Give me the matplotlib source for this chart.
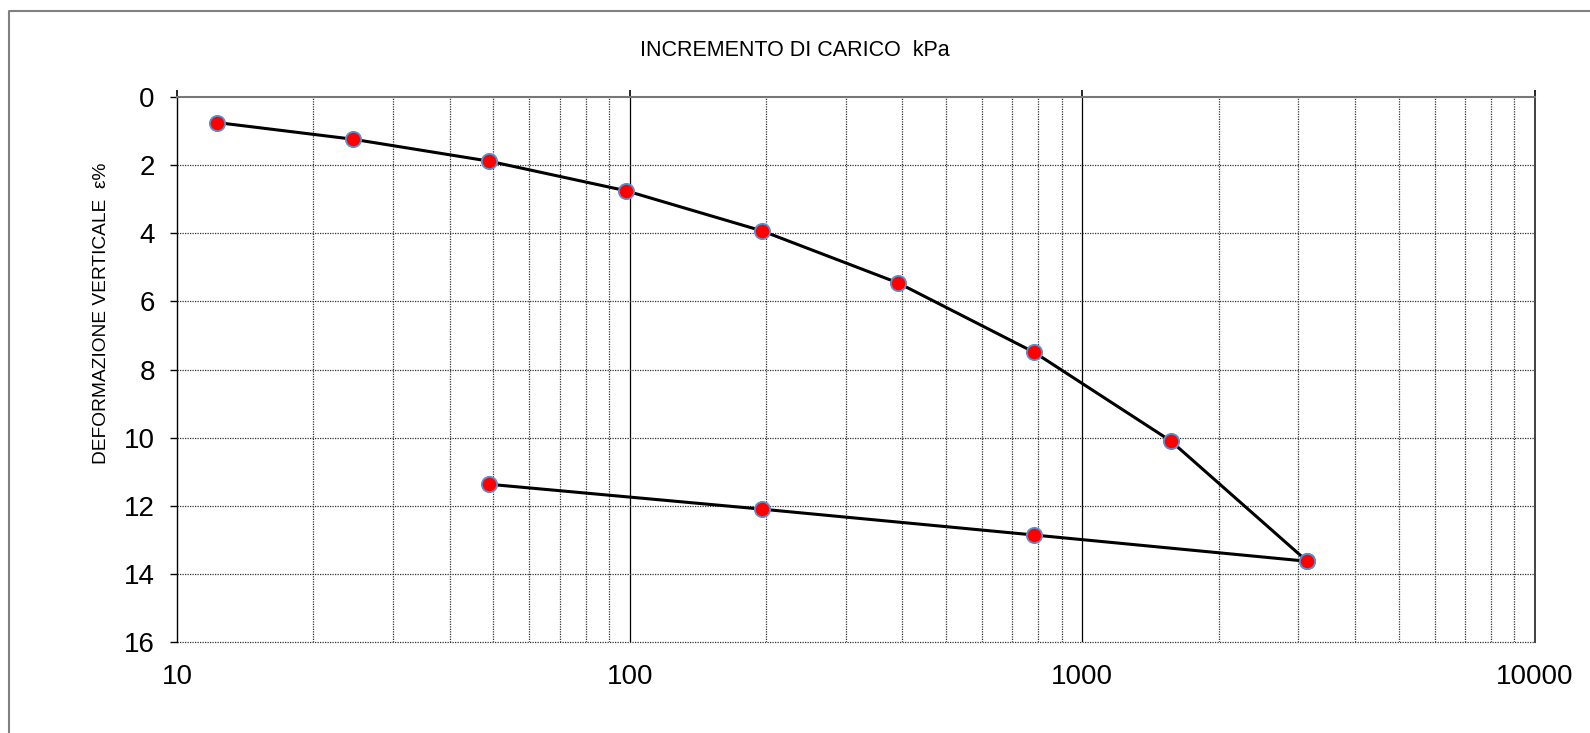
import matplotlib
matplotlib.use("Agg")
import matplotlib.pyplot as plt
from matplotlib.lines import Line2D
from matplotlib.ticker import FixedLocator, NullLocator

plt.rcParams['font.family'] = ['Liberation Sans', 'DejaVu Sans']

# Data (load kPa, vertical strain %)
load_loading = [12.26, 24.5, 49, 98, 196, 392, 784, 1569, 3138]
strain_loading = [0.75, 1.24, 1.885, 2.75, 3.93, 5.46, 7.50, 10.10, 13.63]
load_unloading = [3138, 784, 196, 49]
strain_unloading = [13.63, 12.86, 12.10, 11.37]

xticks = [10, 100, 1000, 10000]
xticklabels = ["10", "100", "1000", "10000"]
yticks = [0, 2, 4, 6, 8, 10, 12, 14, 16]

W, H = 1590, 733
fig = plt.figure(figsize=(W / 100, H / 100), dpi=100)
ax = fig.add_axes([177 / W, 1 - 642 / H, (1535 - 177) / W, (642 - 97) / H])

ax.set_xscale('log')
ax.set_xlim(10, 10000)
ax.set_ylim(16, 0)

# grid
minor_x = [m * 10 ** e for e in (1, 2, 3) for m in range(2, 10)]
for v in minor_x:
    ax.axvline(v, color='#333333', lw=0.9, ls=(0, (1, 1)), zorder=1)
for v in (100, 1000):
    ax.axvline(v, color='black', lw=0.9, zorder=1)
for v in yticks[1:]:
    ax.axhline(v, color='#333333', lw=0.9, ls=(0, (1, 1)), zorder=1, clip_on=False)

ax.plot(load_loading, strain_loading, color='black', lw=2.2, zorder=3,
        marker='o', ms=11, mfc='#ff0000', mec='#5b8fd0', mew=1.3)
ax.plot(load_unloading, strain_unloading, color='black', lw=2.2, zorder=3,
        marker='o', ms=11, mfc='#ff0000', mec='#5b8fd0', mew=1.3)

ax.spines['bottom'].set_visible(False)
ax.spines['left'].set_color('black')
ax.spines['left'].set_linewidth(1.0)
ax.spines['right'].set_color('#333333')
ax.spines['right'].set_linewidth(1.3)
ax.spines['top'].set_color('#777777')
ax.spines['top'].set_linewidth(1.5)

ax.xaxis.set_major_locator(FixedLocator(xticks))
ax.xaxis.set_minor_locator(NullLocator())
ax.set_xticklabels(xticklabels)
ax.tick_params(axis='x', which='major', top=True, bottom=False, labeltop=False,
               labelbottom=True, direction='out', length=5, width=1.2,
               labelsize=20, pad=11)
ax.yaxis.set_major_locator(FixedLocator(yticks))
ax.set_yticklabels([str(v) for v in yticks])
ax.tick_params(axis='y', direction='out', length=5, width=1.0, labelsize=20, pad=11)

fig.text(795 / W, 1 - 50 / H, "INCREMENTO DI CARICO  kPa", ha='center', va='center', fontsize=15.5)
fig.text(102 / W, 1 - 313 / H, "DEFORMAZIONE VERTICALE  ε%", ha='center', va='center',
         rotation=90, fontsize=13.8)

# outer frame (left & top edges visible)
fig.add_artist(Line2D([9 / W, 9 / W, 1.0], [0.0, 1 - 11 / H, 1 - 11 / H],
                      color='#808080', lw=1.5, transform=fig.transFigure))

fig.savefig("out.png", dpi=100)
